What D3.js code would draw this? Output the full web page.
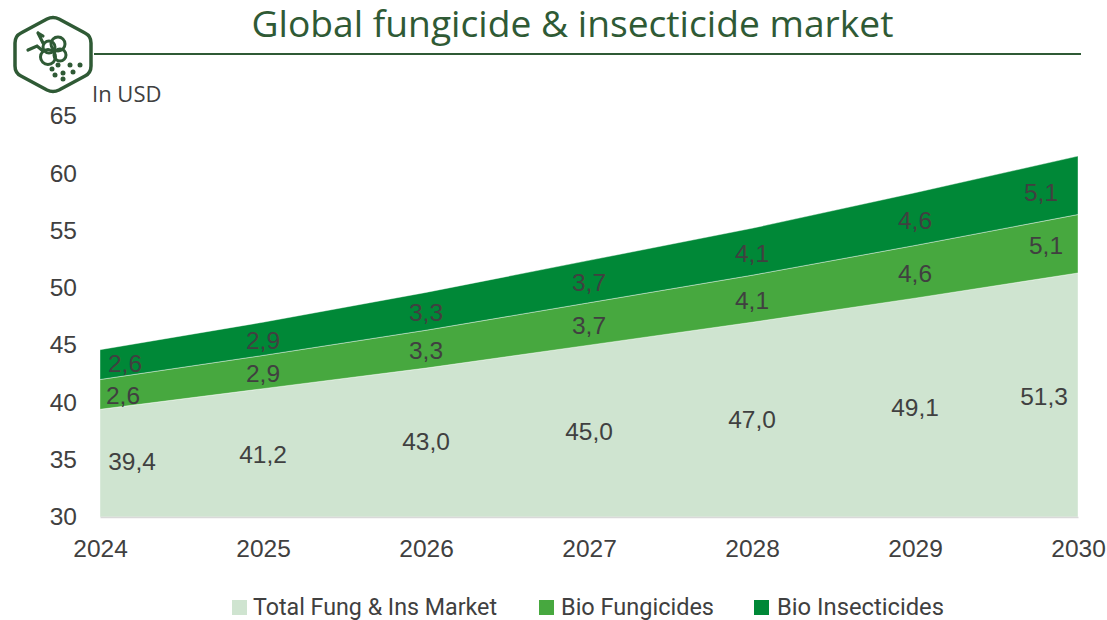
<!DOCTYPE html>
<html>
<head>
<meta charset="utf-8">
<script src="https://cdn.jsdelivr.net/npm/d3@7"></script>
<style>
  html, body { margin: 0; padding: 0; background: #fff; }
  svg { display: block; }
</style>
</head>
<body>
<div id="chart"></div>
<script>
var width = 1107
var height = 620

/////////////////////////////////// DATA /////////////////////////////////////////////
var years = [2024, 2025, 2026, 2027, 2028, 2029, 2030];
var totalMarket = [39.4, 41.2, 43.0, 45.0, 47.0, 49.1, 51.3];
var bioFungicides = [2.6, 2.9, 3.3, 3.7, 4.1, 4.6, 5.1];
var bioInsecticides = [2.6, 2.9, 3.3, 3.7, 4.1, 4.6, 5.1];
var seriesNames = ['Total Fung & Ins Market', 'Bio Fungicides', 'Bio Insecticides'];
var yTicks = [30, 35, 40, 45, 50, 55, 60, 65];

var colors = ['#cfe4d0', '#47a83f', '#008837'];
var darkGreen = '#2f5a35';
var textColor = '#404040';
var sansFont = '"Liberation Sans", Arial, sans-serif';

var margin = { left: 100, right: 29, top: 116, bottom: 103 };

var svg = d3.select('#chart')
            .append('svg')
            .attr('width', width)
            .attr('height', height);

var x = d3.scalePoint()
          .domain(years)
          .range([margin.left, width - margin.right]);

var y = d3.scaleLinear()
          .domain([30, 65])
          .range([height - margin.bottom, margin.top]);

var rows = years.map(function (year, i) {
    return { year: year, total: totalMarket[i], fung: bioFungicides[i], insect: bioInsecticides[i] };
});

var stacked = d3.stack().keys(['total', 'fung', 'insect'])(rows);

var area = d3.area()
             .x(function (d) { return x(d.data.year); })
             .y0(function (d) { return y(Math.max(d[0], 30)); })
             .y1(function (d) { return y(d[1]); });

//////////////// areas /////////////////
svg.selectAll('path.band')
   .data(stacked)
   .enter()
   .append('path')
   .attr('class', 'band')
   .attr('d', area)
   .attr('fill', function (d, i) { return colors[i]; })
   .attr('stroke', '#fff')
   .attr('stroke-width', 0.4);

//////////////// axes /////////////////
var xAxis = svg.append('g')
               .attr('transform', 'translate(0,' + y(30) + ')')
               .call(d3.axisBottom(x).tickSize(0).tickPadding(23).tickFormat(d3.format('d')));
xAxis.select('.domain').attr('stroke', '#d9d9d9').attr('stroke-width', 1.5);

var yAxis = svg.append('g')
               .attr('transform', 'translate(' + margin.left + ',0)')
               .call(d3.axisLeft(y).tickValues(yTicks).tickSize(0).tickPadding(23));
yAxis.select('.domain').remove();

svg.selectAll('.tick text')
   .attr('font-family', sansFont)
   .attr('font-size', 24.5)
   .attr('fill', textColor);

//////////////// data labels /////////////////
// the labels do not all sit on the band centre, these are the offsets by [year][series]
var labelDx = [[32, 23, 25], [0, 0, 0], [0, 0, 0], [0, 0, 0], [0, 0, 0], [0, 0, 0], [-34, -32, -37]];
var labelDy = [[-3, 0, -2], [0, 0, 0], [-2, 0, 0], [-1, 0, 0], [-1, 0, 0], [-1, 0, 0], [0, 0, 6]];
var commaFormat = function (v) { return v.toFixed(1).replace('.', ','); };

stacked.forEach(function (layer, s) {
    svg.selectAll('text.label' + s)
       .data(layer)
       .enter()
       .append('text')
       .attr('class', 'label' + s)
       .attr('x', function (d, i) { return x(d.data.year) + labelDx[i][s]; })
       .attr('y', function (d, i) { return (y(Math.max(d[0], 30)) + y(d[1])) / 2 + labelDy[i][s]; })
       .attr('dy', '0.4em')
       .attr('text-anchor', 'middle')
       .attr('font-family', sansFont)
       .attr('font-size', 24.5)
       .attr('fill', textColor)
       .text(function (d) { return commaFormat(d[1] - d[0]); });
});

//////////////// title and header /////////////////
svg.append('text')
   .attr('x', 572.5)
   .attr('y', 37)
   .attr('text-anchor', 'middle')
   .attr('font-family', '"Open Sans", sans-serif')
   .attr('font-size', 37.2)
   .attr('fill', darkGreen)
   .text('Global fungicide & insecticide market');

svg.append('line')
   .attr('x1', 94).attr('x2', 1081)
   .attr('y1', 54).attr('y2', 54)
   .attr('stroke', darkGreen)
   .attr('stroke-width', 2);

svg.append('text')
   .attr('x', 92)
   .attr('y', 102)
   .attr('font-family', '"Open Sans", sans-serif')
   .attr('font-size', 22)
   .attr('fill', textColor)
   .text('In USD');

//////////////// icon /////////////////
var icon = svg.append('g')
              .attr('fill', 'none')
              .attr('stroke', darkGreen);

icon.append('path')
    .attr('d', 'M47 19 Q53 16 59 19 L85 33 Q91 36 91 43 L91 66 Q91 73 85 76 L59 90 Q53 93 47 90 L21 76 Q15 73 15 66 L15 43 Q15 36 21 33 Z')
    .attr('stroke-width', 3.5)
    .attr('stroke-linejoin', 'round');

[[48, 57, 7.5], [60, 55, 6], [58, 44, 7], [49, 47, 6]].forEach(function (c) {
    icon.append('circle')
        .attr('cx', c[0]).attr('cy', c[1]).attr('r', c[2])
        .attr('stroke-width', 3);
});

icon.append('path')
    .attr('d', 'M28 50 L37 46 L43 51 M38 33 L43 43 M43 36 L38 33')
    .attr('stroke-width', 3.2)
    .attr('stroke-linecap', 'round');

[[58, 65], [70, 65], [80, 65], [52, 69], [63, 73], [73, 72], [55, 75], [63, 79]].forEach(function (c) {
    icon.append('circle')
        .attr('cx', c[0]).attr('cy', c[1]).attr('r', 2.5)
        .attr('fill', darkGreen)
        .attr('stroke', 'none');
});

//////////////// legend /////////////////
var legendX = [232, 539, 754];
var legendTextX = [253, 561, 777];
var legendTextLength = [244, 153, 167];

var legend = svg.selectAll('g.legend')
                .data(seriesNames)
                .enter()
                .append('g')
                .attr('class', 'legend');

legend.append('rect')
      .attr('x', function (d, i) { return legendX[i]; })
      .attr('y', 600)
      .attr('width', 15)
      .attr('height', 15)
      .attr('fill', function (d, i) { return colors[i]; });

legend.append('text')
      .attr('x', function (d, i) { return legendTextX[i]; })
      .attr('y', 615)
      .attr('font-family', 'Roboto, sans-serif')
      .attr('font-size', 24)
      .attr('textLength', function (d, i) { return legendTextLength[i]; })
      .attr('lengthAdjust', 'spacingAndGlyphs')
      .attr('fill', textColor)
      .text(function (d) { return d; });
</script>
</body>
</html>
